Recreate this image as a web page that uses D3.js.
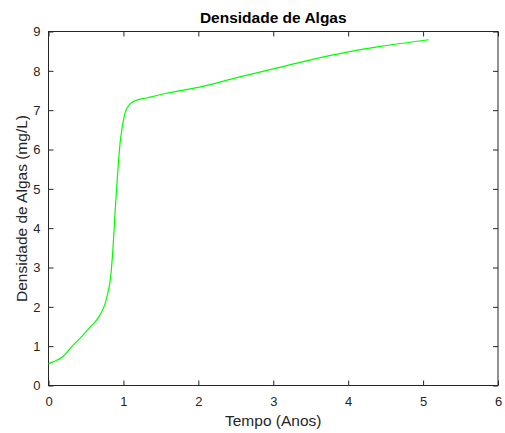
<!DOCTYPE html>
<html>
<head>
<meta charset="utf-8">
<script src="https://cdn.jsdelivr.net/npm/d3@7"></script>
<style>
	body { margin:0; background:#fff; }
	svg text { font-family: "Liberation Sans", Arial, sans-serif; fill:#262626; }
	.axis path, .axis line { stroke:#262626; }
</style>
</head>
<body>
<div id="svgContainer"></div>
<script>
// values
var tempo = [0, 0.06, 0.18, 0.31, 0.42, 0.55, 0.68, 0.75, 0.78, 0.83, 0.865, 0.89, 0.92, 0.955, 0.985, 1.02, 1.08, 1.155, 1.31, 1.58, 2.0, 2.5, 3.0, 3.5, 4.0, 4.43, 5.075];
var densidade = [0.55, 0.6, 0.72, 0.99, 1.2, 1.47, 1.77, 2.05, 2.26, 2.77, 3.62, 4.46, 5.31, 6.16, 6.58, 6.92, 7.14, 7.24, 7.31, 7.43, 7.58, 7.82, 8.05, 8.28, 8.48, 8.62, 8.79];
var xTicks = [0, 1, 2, 3, 4, 5, 6];
var yTicks = [0, 1, 2, 3, 4, 5, 6, 7, 8, 9];

const W = 505, H = 433;
const margin = {top:31.5, bottom:47.5, left:48.5, right:7}; // box edges
var graphSize = { width: W - margin.left - margin.right, height: H - margin.top - margin.bottom };

var data = tempo.map(function(t, i){ return {x:t, y:densidade[i]}; });

var xScale = d3.scaleLinear().domain([0, 6]).range([0, graphSize.width]);
var yScale = d3.scaleLinear().domain([0, 9]).range([graphSize.height, 0]);

var svg = d3.select("#svgContainer").append("svg")
	.attr("width", W).attr("height", H);

var g = svg.append("g")
	.attr("transform", "translate(" + margin.left + "," + margin.top + ")");

// ticks inside, matlab style
function fmt(a){ return a.tickSize(-5).tickPadding(8).tickSizeOuter(0); }

g.append("g").attr("class","x axis")
	.attr("transform", "translate(0," + graphSize.height + ")")
	.call(fmt(d3.axisBottom(xScale).tickValues(xTicks).tickFormat(d3.format("d"))))
	.selectAll("text").style("font-size","13px").attr("y", 20).attr("dy", 0);

g.append("g").attr("class","y axis")
	.call(fmt(d3.axisLeft(yScale).tickValues(yTicks).tickFormat(d3.format("d"))))
	.selectAll("text").style("font-size","13px");

// top & right ticks
g.append("g").attr("class","axis")
	.call(d3.axisTop(xScale).tickValues(xTicks).tickSize(-5).tickSizeOuter(0).tickFormat(""));
g.append("g").attr("class","axis")
	.attr("transform", "translate(" + graphSize.width + ",0)")
	.call(d3.axisRight(yScale).tickValues(yTicks).tickSize(-5).tickSizeOuter(0).tickFormat(""));

g.selectAll(".domain").remove();
g.append("rect")
	.attr("width", graphSize.width).attr("height", graphSize.height)
	.attr("fill","none").attr("stroke","#262626").attr("stroke-width",1);

var lineFunction = d3.line()
	.x(function(d){ return xScale(d.x); })
	.y(function(d){ return yScale(d.y); })
	.curve(d3.curveMonotoneX);

g.append("path").datum(data)
	.attr("d", lineFunction)
	.attr("fill","none").attr("stroke","#00ff00").attr("stroke-width",1.2);

// title and labels
svg.append("text")
	.attr("x", margin.left + graphSize.width/2).attr("y", 23)
	.attr("text-anchor","middle").style("font-size","15.5px").style("font-weight","bold")
	.style("fill","#000")
	.text("Densidade de Algas");

svg.append("text")
	.attr("x", margin.left + graphSize.width/2).attr("y", 426)
	.attr("text-anchor","middle").style("font-size","15.5px")
	.text("Tempo (Anos)");

svg.append("text")
	.attr("transform", "translate(26.5," + (margin.top + graphSize.height/2) + ") rotate(-90)")
	.attr("text-anchor","middle").style("font-size","15.5px")
	.text("Densidade de Algas (mg/L)");
</script>
</body>
</html>
